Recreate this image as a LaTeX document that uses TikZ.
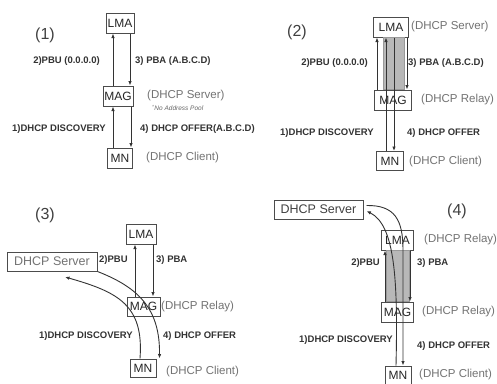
\documentclass[tikz,border=0pt]{standalone}
\usepackage{fontspec}
\setmainfont{Liberation Sans}
\usetikzlibrary{arrows.meta}
\begin{document}
\begin{tikzpicture}[x=1pt,y=-1pt,
  box/.style={draw=black!70, fill=white, line width=1pt, inner sep=0pt, minimum height=20pt, font=\fontsize{12}{12}\selectfont, text=black!85},
  lbl/.style={font=\fontsize{9.5}{10}\selectfont\bfseries, text=black!80, inner sep=0pt},
  role/.style={font=\fontsize{11.5}{12}\selectfont, text=black!55, inner sep=0pt, anchor=west},
  num/.style={font=\fontsize{16}{16}\selectfont, text=black!75, inner sep=0pt},
  arr/.style={draw=black!80, line width=0.9pt, -{Latex[length=4.5pt,width=3.5pt]}},
  band/.style={fill=black!28, draw=black!40, line width=0.3pt}
]
\fill[white] (0,0) rectangle (497,383);
\useasboundingbox (0,0) rectangle (497,383);

% ---------------- Panel 1 ----------------
\node[num] (n1) at (45,35) {(1)};
\node[box, minimum width=28pt] (lma1) at (120,23) {LMA};
\node[box, minimum width=30pt] (mag1) at (118,96) {MAG};
\node[box, minimum width=25pt] (mn1) at (120,158) {MN};
\draw[arr] ([xshift=-5pt]mag1.north) -- ([xshift=-5pt]mag1.north |- lma1.south);
\draw[arr] ([xshift=12pt]mag1.north |- lma1.south) -- ([xshift=12pt]mag1.north);
\draw[arr] ([xshift=-5pt]mag1.south |- mn1.north) -- ([xshift=-5pt]mag1.south);
\draw[arr] ([xshift=13pt]mag1.south) -- ([xshift=13pt]mag1.south |- mn1.north);
\node[lbl, anchor=east] (l1a) at (100,61) {2)PBU (0.0.0.0)};
\node[lbl, anchor=west] (l1b) at (135,61) {3) PBA (A.B.C.D)};
\node[role] (r1a) at (147,96) {(DHCP Server)};
\node[font=\fontsize{6.5}{7}\selectfont\itshape, text=black!60, anchor=west, inner sep=0pt] (r1n) at (152,108) {\textsuperscript{*}No Address Pool};
\node[lbl, anchor=east] (l1c) at (106,129) {1)DHCP DISCOVERY};
\node[lbl, anchor=west] (l1d) at (140,129) {4) DHCP OFFER(A.B.C.D)};
\node[role] (r1c) at (146,158) {(DHCP Client)};

% ---------------- Panel 2 ----------------
\node[num] (n2) at (297,32) {(2)};
\node[box, minimum width=35pt] (lma2) at (391,27) {LMA};
\node[box, minimum width=37pt] (mag2) at (393,100) {MAG};
\node[box, minimum width=27pt, minimum height=19pt] (mn2) at (390,161) {MN};
\path[band] ([xshift=-8pt]lma2.south) rectangle ([xshift=11pt]mag2.north);
\draw[arr] ([xshift=-16pt]mag2.north) -- ([xshift=-16pt]mag2.north |- lma2.south);
\draw[arr] ([xshift=-4pt]mn2.north) -- ([xshift=-4pt]mn2.north |- lma2.south);
\draw[arr] ([xshift=4pt]mn2.north |- lma2.south) -- ([xshift=4pt]mn2.north);
\draw[arr] ([xshift=14pt]mag2.north |- lma2.south) -- ([xshift=14pt]mag2.north);
\node[lbl, anchor=east] (l2a) at (368,63) {2)PBU (0.0.0.0)};
\node[lbl, anchor=west] (l2b) at (408,63) {3) PBA (A.B.C.D)};
\node[role] (r2a) at (411,27) {(DHCP Server)};
\node[role] (r2b) at (421,100) {(DHCP Relay)};
\node[lbl, anchor=east] (l2c) at (374,133) {1)DHCP DISCOVERY};
\node[lbl, anchor=west] (l2d) at (407,133) {4) DHCP OFFER};
\node[role] (r2c) at (409,162) {(DHCP Client)};

% ---------------- Panel 3 ----------------
\node[num] (n3) at (45,215) {(3)};
\node[box, minimum width=30pt] (lma3) at (141,234) {LMA};
\node[box, minimum width=90pt, minimum height=19pt, text=black!55, font=\fontsize{12.5}{13}\selectfont] (ds3) at (52,261.5) {DHCP Server};
\node[box, minimum width=33pt, minimum height=19pt] (mag3) at (143.5,306.5) {MAG};
\node[box, minimum width=26pt, minimum height=18pt] (mn3) at (143,368) {MN};
\coordinate (d3) at (65,277);
\draw[arr] ([xshift=-8.5pt]mag3.north) -- ([xshift=-8.5pt]mag3.north |- lma3.south);
\draw[arr] ([xshift=9.5pt]mag3.north |- lma3.south) -- ([xshift=9.5pt]mag3.north);
\draw[arr] ([xshift=-3pt]mn3.north) .. controls (144,305) and (118,292) .. (d3);
\draw[arr] (ds3.south east) .. controls (140,288) and (160,310) .. ([xshift=3pt]mn3.north east);
\node[lbl, anchor=west] (l3a) at (99,260) {2)PBU};
\node[lbl, anchor=west] (l3b) at (156,260) {3) PBA};
\node[role] (r3a) at (161,307) {(DHCP Relay)};
\node[lbl, anchor=east] (l3c) at (133,336) {1)DHCP DISCOVERY};
\node[lbl, anchor=west] (l3d) at (163,336) {4) DHCP OFFER};
\node[role] (r3b) at (166,372) {(DHCP Client)};

% ---------------- Panel 4 ----------------
\node[box, minimum width=89pt, minimum height=19pt, text=black!75, font=\fontsize{12.5}{13}\selectfont] (ds4) at (318.5,209.5) {DHCP Server};
\node[num] (n4) at (457,211) {(4)};
\node[box, minimum width=32pt] (lma4) at (397.5,240) {LMA};
\node[box, minimum width=32pt] (mag4) at (397.5,312) {MAG};
\node[box, minimum width=26pt, minimum height=18pt] (mn4) at (398,375) {MN};
\path[band] ([xshift=-11.5pt]lma4.south) rectangle ([xshift=11.5pt]mag4.north);
\coordinate (o4) at (403,250);
\draw[arr] ([xshift=-12.5pt]mag4.north) -- ([xshift=-12.5pt]mag4.north |- lma4.south);
\draw[arr] ([xshift=12.5pt]mag4.north |- lma4.south) -- ([xshift=12.5pt]mag4.north);
\draw[arr] ([xshift=-2pt]mn4.north) .. controls (398,280) and (395,225) .. ([xshift=3pt,yshift=-1.5pt]ds4.east);
\draw[arr] ([xshift=3pt,yshift=4pt]ds4.east) .. controls (395,205) and (403,220) .. (o4) -- (o4 |- mn4.north);
\node[lbl, anchor=east] (l4a) at (380,263) {2)PBU};
\node[lbl, anchor=west] (l4b) at (417,263) {3) PBA};
\node[role] (r4a) at (424,240) {(DHCP Relay)};
\node[role] (r4b) at (422,312) {(DHCP Relay)};
\node[lbl, anchor=east] (l4c) at (393,340) {1)DHCP DISCOVERY};
\node[lbl, anchor=west] (l4d) at (417,346) {4) DHCP OFFER};
\node[role] (r4c) at (419,375) {(DHCP Client)};
\end{tikzpicture}
\end{document}
